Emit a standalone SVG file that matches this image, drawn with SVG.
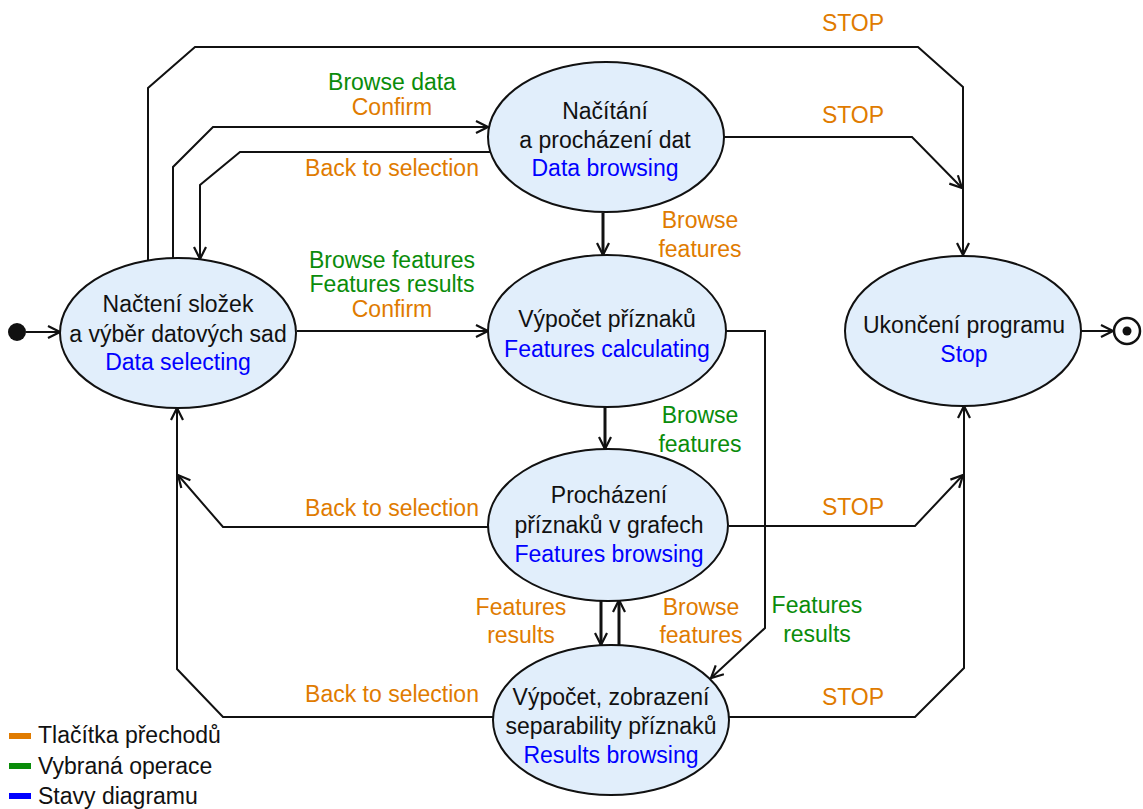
<svg xmlns="http://www.w3.org/2000/svg" width="1143" height="809" viewBox="0 0 1143 809">
<defs>
<style>
text{font-family:"Liberation Sans",Arial,sans-serif;font-size:23px;text-anchor:middle}
.n{fill:#111}
.s{fill:#0000FF}
.o{fill:#E07B00}
.g{fill:#0A8C0A}
.st{fill:#E1EEFB;stroke:#111;stroke-width:2}
.c{fill:none;stroke:#111;stroke-width:2;marker-end:url(#arr)}
.b{fill:none;stroke:#111;stroke-width:3;marker-end:url(#arr)}
.lg{text-anchor:start}
</style>
<marker id="arr" viewBox="0 0 14 14" markerWidth="14" markerHeight="14" refX="13" refY="7" orient="auto" markerUnits="userSpaceOnUse">
<path d="M1,1 L13,7 L1,13" fill="none" stroke="#111" stroke-width="2.2"/>
</marker>
</defs>
<rect width="1143" height="809" fill="#fff"/>

<g id="connectors">
<circle cx="17" cy="332" r="9" fill="#111"/>
<path class="c" d="M26,332 H60"/>
<path class="c" d="M148,261 V88 L195,47 H918 L963,87 V255"/>
<path class="c" d="M173,259 V167 L213,127 H488"/>
<path class="c" d="M490,152 H240 L200,185 V259"/>
<path class="c" d="M724,137 H912 L962,188"/>
<path class="b" d="M603,213 V255"/>
<path class="c" d="M297,331 H488"/>
<path class="b" d="M605,407 V449"/>
<path class="c" d="M726,331 H765 V628 L711,678"/>
<path class="c" d="M489,527 H223 L178,475"/>
<path class="c" d="M493,717 H223 L177,669 V408"/>
<path class="b" d="M601,600 V645"/>
<path class="b" d="M619,645 V600"/>
<path class="c" d="M729,526 H915 L963,475"/>
<path class="c" d="M729,717 H915 L964,668 V406"/>
<path class="c" d="M1081,331 H1113"/>
<circle cx="1127" cy="331" r="13" fill="#fff" stroke="#111" stroke-width="2.5"/>
<circle cx="1127" cy="331" r="4.5" fill="#111"/>

<text class="o" x="853" y="31">STOP</text>
<text class="g" x="392" y="90">Browse data</text>
<text class="o" x="392" y="115">Confirm</text>
<text class="o" x="392" y="176">Back to selection</text>
<text class="o" x="853" y="123">STOP</text>
<text class="o" x="700" y="228">Browse</text>
<text class="o" x="700" y="257">features</text>
<text class="g" x="392" y="268">Browse features</text>
<text class="g" x="392" y="292">Features results</text>
<text class="o" x="392" y="317">Confirm</text>
<text class="g" x="700" y="423">Browse</text>
<text class="g" x="700" y="452">features</text>
<text class="o" x="392" y="516">Back to selection</text>
<text class="o" x="853" y="515">STOP</text>
<text class="o" x="521" y="615">Features</text>
<text class="o" x="521" y="643">results</text>
<text class="o" x="701" y="615">Browse</text>
<text class="o" x="701" y="643">features</text>
<text class="g" x="817" y="613">Features</text>
<text class="g" x="817" y="642">results</text>
<text class="o" x="392" y="702">Back to selection</text>
<text class="o" x="853" y="705">STOP</text>
</g>

<g id="node-data-selecting">
<ellipse class="st" cx="178" cy="333" rx="118" ry="75"/>
<text class="n" x="178" y="312">Načtení složek</text>
<text class="n" x="178" y="342">a výběr datových sad</text>
<text class="s" x="178" y="370">Data selecting</text>
</g>

<g id="node-data-browsing">
<ellipse class="st" cx="606" cy="137" rx="118" ry="75"/>
<text class="n" x="605" y="119">Načítání</text>
<text class="n" x="605" y="148">a procházení dat</text>
<text class="s" x="605" y="176">Data browsing</text>
</g>

<g id="node-features-calculating">
<ellipse class="st" cx="607" cy="331" rx="119" ry="76"/>
<text class="n" x="607" y="327">Výpočet příznaků</text>
<text class="s" x="607" y="357">Features calculating</text>
</g>

<g id="node-stop">
<ellipse class="st" cx="963" cy="331" rx="118" ry="75"/>
<text class="n" x="964" y="333">Ukončení programu</text>
<text class="s" x="964" y="362">Stop</text>
</g>

<g id="node-features-browsing">
<ellipse class="st" cx="608" cy="525" rx="120" ry="76"/>
<text class="n" x="609" y="503">Procházení</text>
<text class="n" x="609" y="533">příznaků v grafech</text>
<text class="s" x="609" y="562">Features browsing</text>
</g>

<g id="node-results-browsing">
<ellipse class="st" cx="611" cy="720" rx="118" ry="75"/>
<text class="n" x="611" y="705">Výpočet, zobrazení</text>
<text class="n" x="611" y="734">separability příznaků</text>
<text class="s" x="611" y="763">Results browsing</text>
</g>

<g id="legend">
<rect x="9" y="733" width="22" height="6" fill="#E07B00"/>
<text class="n lg" x="38" y="743">Tlačítka přechodů</text>
<rect x="9" y="763" width="22" height="6" fill="#0A8C0A"/>
<text class="n lg" x="38" y="774">Vybraná operace</text>
<rect x="9" y="793" width="22" height="6" fill="#0000FF"/>
<text class="n lg" x="38" y="804">Stavy diagramu</text>
</g>
</svg>
